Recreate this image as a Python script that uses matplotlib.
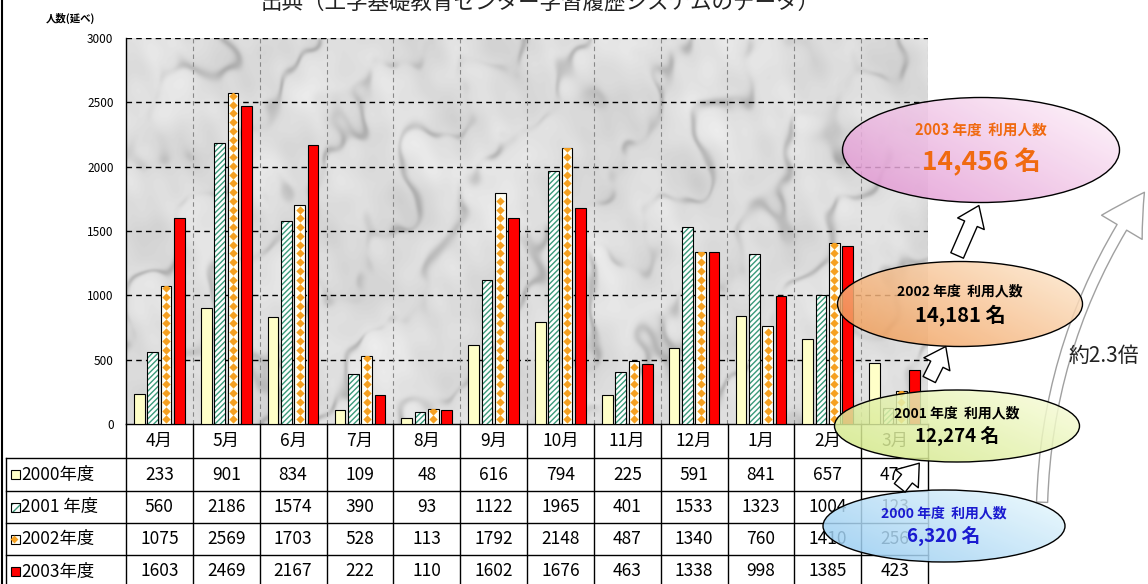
import numpy as np
import matplotlib
matplotlib.use('Agg')
import matplotlib.pyplot as plt
from matplotlib.patches import Ellipse, Rectangle, FancyArrowPatch

plt.rcParams['font.family'] = ['Noto Sans CJK JP', 'DejaVu Sans']

# data
months = ['4月', '5月', '6月', '7月', '8月', '9月', '10月', '11月', '12月', '1月', '2月', '3月']
series_names = ['2000年度', '2001 年度', '2002年度', '2003年度']
fy2000 = [233, 901, 834, 109, 48, 616, 794, 225, 591, 841, 657, 471]
fy2001 = [560, 2186, 1574, 390, 93, 1122, 1965, 401, 1533, 1323, 1004, 123]
fy2002 = [1075, 2569, 1703, 528, 113, 1792, 2148, 487, 1340, 760, 1410, 256]
fy2003 = [1603, 2469, 2167, 222, 110, 1602, 1676, 463, 1338, 998, 1385, 423]
yticks = [0, 500, 1000, 1500, 2000, 2500, 3000]

totals = [sum(fy2000), sum(fy2001), sum(fy2002), sum(fy2003)]
years = ['2000', '2001', '2002', '2003']

W, H = 1148, 584
fig = plt.figure(figsize=(W/100, H/100), dpi=100)

# main plot area (pixels: x 126..928, y 38..424)
ax = fig.add_axes([126/W, (H-424)/H, 802/W, 386/H])
ax.set_xlim(-0.5, 11.5)
ax.set_ylim(0, 3000)

# marble-ish background texture (deterministic, no noise)
yy, xx = np.mgrid[0:386, 0:802].astype(float)
waves = [(0.031, 0.017, 0.3), (-0.012, 0.027, 1.7), (0.021, -0.019, 2.9),
         (0.047, 0.033, 4.1), (-0.038, 0.051, 0.9), (0.066, -0.041, 5.3),
         (0.009, 0.072, 2.2), (-0.081, 0.023, 3.6)]
cloud = sum(np.sin(a*xx + b*yy + p) for a, b, p in waves) / len(waves)
fine = sum(np.sin(3.1*a*xx + 2.7*b*yy + 2*p) for a, b, p in waves) / len(waves)
t = (xx + 0.7*yy)/30. + 2.5*cloud + 0.6*fine
veins = np.exp(-np.sin(t)**2/0.06)
marble = 0.87 + 0.07*cloud + 0.03*fine - 0.16*veins*(0.55 + 0.45*np.sin(0.017*xx - 0.023*yy + 3*fine))
ax.imshow(marble, extent=(-0.5, 11.5, 0, 3000), aspect='auto', cmap='gray',
          vmin=0, vmax=1, zorder=0, origin='upper')

for yv in yticks[1:]:
    ax.axhline(yv, color='black', ls=(0, (4, 3)), lw=1, zorder=1)
for k in range(12):
    ax.axvline(k + 0.5, color='#888888', ls=(0, (4, 3)), lw=0.8, zorder=1)

ax.spines['top'].set_visible(False)
ax.spines['right'].set_visible(False)
ax.spines['left'].set_linewidth(1)
ax.spines['bottom'].set_linewidth(1)
ax.set_xticks([])
ax.set_yticks(yticks)
ax.set_yticklabels([str(v) for v in yticks], fontsize=8.5)
ax.tick_params(axis='y', length=0, pad=9)

# bars
x = np.arange(12)
w = 0.16
offs = [-0.3, -0.1, 0.1, 0.3]
ax.bar(x + offs[0], fy2000, w, color='#ffffc8', edgecolor='black', lw=0.8, zorder=3)
ax.bar(x + offs[1], fy2001, w, color='white', edgecolor='#3a9a7a', hatch='//////', lw=0, zorder=3)
ax.bar(x + offs[1], fy2001, w, fill=False, edgecolor='black', lw=0.8, zorder=4)
b2 = ax.bar(x + offs[2], fy2002, w, color='#fffff4', edgecolor='black', lw=0.8, zorder=3)
for rect, val in zip(b2, fy2002):
    ys = np.arange(35, val, 68)
    sc = ax.scatter(np.full(len(ys), rect.get_x() + w/2), ys, marker='D', s=18,
                    color='#f5a020', lw=0, zorder=3.5)
    sc.set_clip_path(rect)
ax.bar(x + offs[3], fy2003, w, color='#ff0000', edgecolor='black', lw=0.8, zorder=3)

# overlay in pixel coordinates
ov = fig.add_axes([0, 0, 1, 1], zorder=5)
ov.axis('off')

ov.plot([1.5, 1.5], [0, H], color='black', lw=1.5)
ov.text(540, 4, '出典（工学基礎教育センター学習履歴システムのデータ）', fontsize=15.5,
        ha='center', va='center', color='#222222')
ov.text(70, 18, '人数(延べ)', fontsize=7.5, fontweight='bold', ha='center', va='center')

# table
col_edges = [126 + 802/12*k for k in range(13)]
row_edges = [424, 458, 491, 523, 555, 588]
for ye in row_edges[1:]:
    ov.plot([6, 928], [ye, ye], color='black', lw=1, zorder=1)
for xe in col_edges:
    ov.plot([xe, xe], [424, 588], color='black', lw=1, zorder=1)
ov.plot([6, 6], [458, 588], color='black', lw=1, zorder=1)

for k, m in enumerate(months):
    ov.text((col_edges[k] + col_edges[k+1])/2, 441, m, fontsize=12.5, ha='center', va='center', zorder=2)

table_rows = [fy2000, fy2001, fy2002, fy2003]
for r, vals in enumerate(table_rows):
    yc = (row_edges[r+1] + row_edges[r+2])/2
    for k, val in enumerate(vals):
        ov.text((col_edges[k] + col_edges[k+1])/2, yc, str(val), fontsize=12.5,
                ha='center', va='center', zorder=2)
    ov.text(21, yc, series_names[r], fontsize=12.5, ha='left', va='center', zorder=2)

# legend keys
key_y = [(row_edges[r+1] + row_edges[r+2])/2 for r in range(4)]
ov.add_patch(Rectangle((11, key_y[0]-4.5), 9, 9, fc='#ffffc8', ec='black', lw=0.8, zorder=2))
ov.add_patch(Rectangle((11, key_y[1]-4.5), 9, 9, fc='white', ec='#3a9a7a', hatch='////', lw=0, zorder=2))
ov.add_patch(Rectangle((11, key_y[1]-4.5), 9, 9, fill=False, ec='black', lw=0.8, zorder=2))
ov.add_patch(Rectangle((11, key_y[2]-4.5), 9, 9, fc='#fffff4', ec='black', lw=0.8, zorder=2))
ov.scatter([14], [key_y[2]], marker='D', s=16, color='#f5a020', lw=0, zorder=2.5)
ov.add_patch(Rectangle((11, key_y[3]-4.5), 9, 9, fc='#ff0000', ec='black', lw=0.8, zorder=2))

# big curved arrow
big = FancyArrowPatch((1042, 505), (1146, 190), connectionstyle='arc3,rad=-0.15',
                      arrowstyle='simple,head_length=3.0,head_width=3.4,tail_width=0.8',
                      mutation_scale=10, fc='white', ec='#a0a0a0', lw=1, zorder=3)
ov.add_patch(big)
ov.text(1104, 356, '約2.3倍', fontsize=15, ha='center', va='center', zorder=4,
        color='#222222')

# ellipses with gradient fill
def grad_ellipse(cx, cy, ew, eh, c_dark, c_light):
    e = Ellipse((cx, cy), ew, eh, fc='none', ec='black', lw=1, zorder=6)
    ov.add_patch(e)
    u, vv = np.meshgrid(np.linspace(0, 1, 120), np.linspace(0, 1, 60))
    tt = np.clip(0.65*(1 - u) + 0.45*vv - 0.1, 0, 1)[..., None]
    c1 = np.array(matplotlib.colors.to_rgb(c_dark))
    c2 = np.array(matplotlib.colors.to_rgb(c_light))
    img = c2 + (c1 - c2)*tt
    im = ov.imshow(img, extent=(cx - ew/2, cx + ew/2, cy + eh/2, cy - eh/2),
                   origin='upper', aspect='auto', alpha=0.85, zorder=5.5)
    im.set_clip_path(e)

ell = [
    (944, 526, 242, 72, '#90c8f0', '#e4f6fd', '#1a1ad0', 10, 13.5),
    (957, 426, 245, 72, '#cfe680', '#f7fcd8', 'black', 10, 13.5),
    (960, 304, 245, 85, '#f09850', '#fde4c8', 'black', 10, 14.5),
    (981, 150, 277, 105, '#e090d0', '#fdeef8', '#f06a10', 10.5, 19),
]
for i, (cx, cy, ew, eh, cd, cl, tc, fs1, fs2) in enumerate(ell):
    grad_ellipse(cx, cy, ew, eh, cd, cl)
    ov.text(cx, cy - 13 if i < 3 else cy - 20, years[i] + ' 年度  利用人数', fontsize=fs1,
            fontweight='bold', color=tc, ha='center', va='center', zorder=7)
    ov.text(cx, cy + 11 if i < 3 else cy + 12, f'{totals[i]:,} 名', fontsize=fs2,
            fontweight='bold', color=tc, ha='center', va='center', zorder=7)

# small block arrows between ellipses
for p0, p1 in [((898, 490), (921, 461)), ((928, 382), (947, 344)), ((956, 258), (980, 203))]:
    a = FancyArrowPatch(p0, p1, arrowstyle='simple,head_length=1.3,head_width=1.9,tail_width=0.9',
                        mutation_scale=11, fc='white', ec='black', lw=1, zorder=8)
    ov.add_patch(a)

ov.set_xlim(0, W)
ov.set_ylim(H, 0)

fig.savefig('out.png', dpi=100)
